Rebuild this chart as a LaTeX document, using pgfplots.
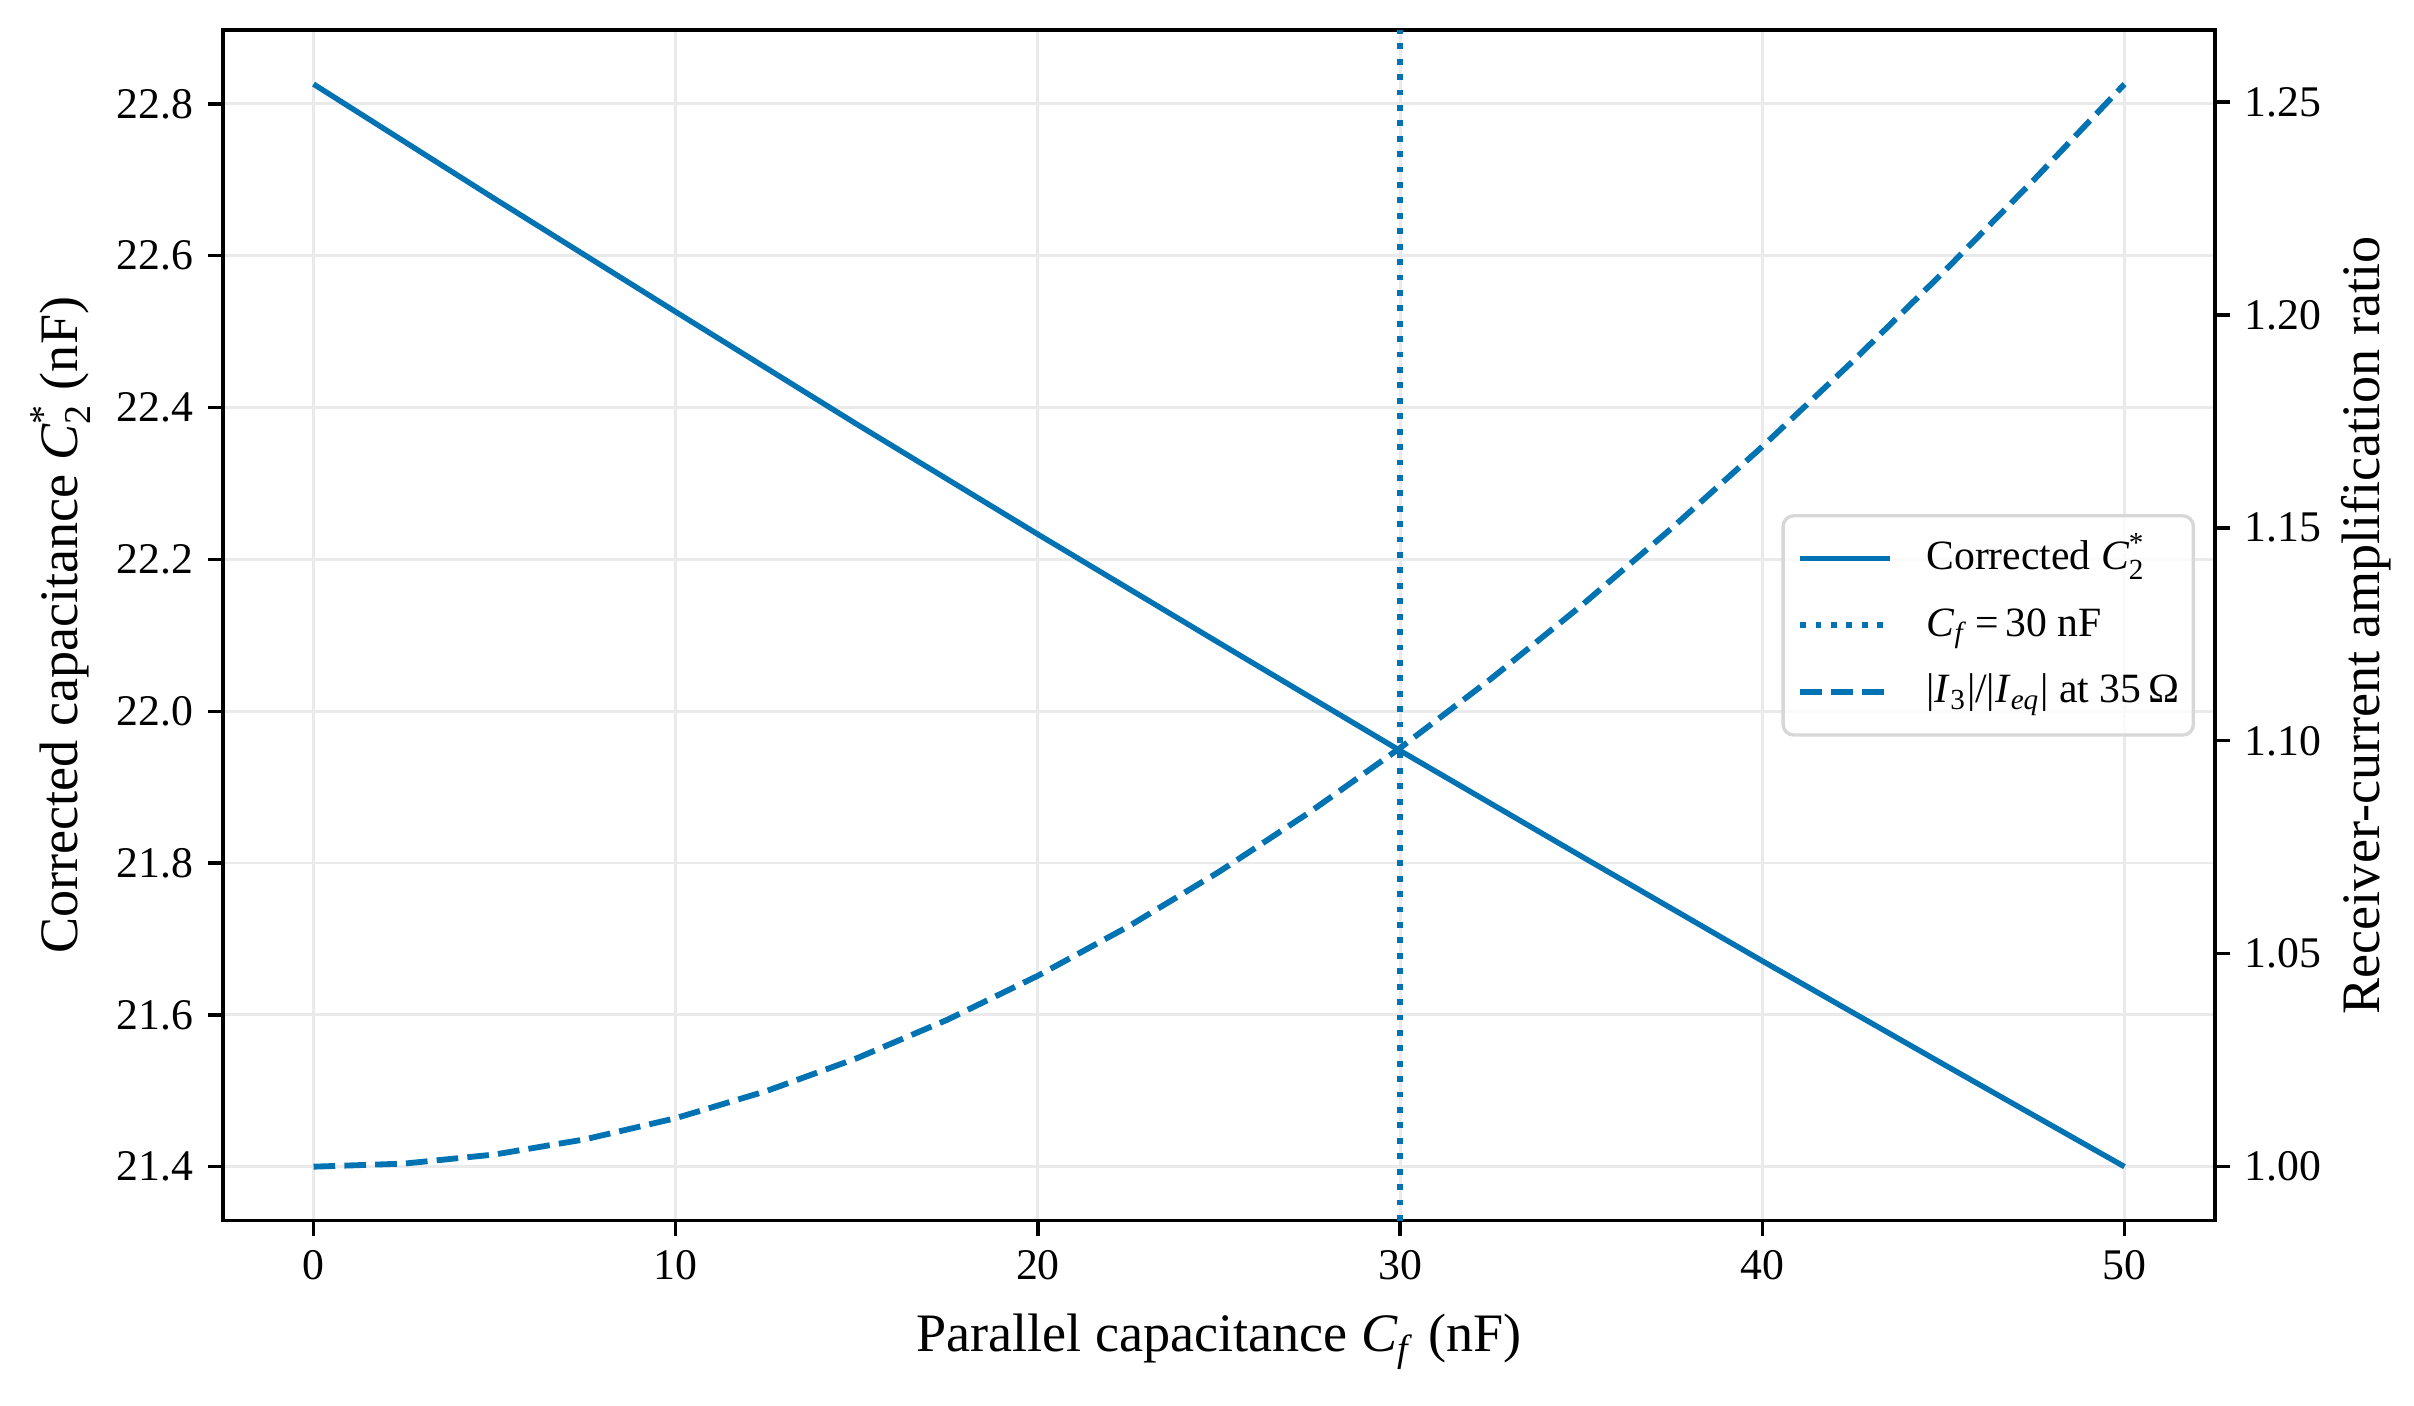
\documentclass[border=0pt]{standalone}
\usepackage{fontspec}
\setmainfont{Liberation Serif}
\usepackage{amsmath}
\usepackage{pgfplots}
\pgfplotsset{compat=1.18}
\definecolor{cblue}{RGB}{1,115,178}
\definecolor{gridc}{RGB}{234,234,234}
\definecolor{legc}{RGB}{215,215,215}

\pgfplotstableread{
x    c2
0    22.826
5    22.675
10   22.526
15   22.378
20   22.233
25   22.090
30   21.948
35   21.809
40   21.671
45   21.535
50   21.400
}\cstar

\pgfplotstableread{
x     r
0     1.00000
2.5   1.00072
5     1.00286
7.5   1.00643
10    1.01139
12.5  1.01775
15    1.02546
17.5  1.03450
20    1.04484
22.5  1.05642
25    1.06923
27.5  1.08321
30    1.09832
32.5  1.11449
35    1.13171
37.5  1.14992
40    1.16907
42.5  1.18912
45    1.21002
47.5  1.23172
50    1.25419
}\ratio

\begin{document}
\begin{tikzpicture}
\begin{axis}[
  name=main,
  scale only axis, width=478.1pt, height=285.8pt,
  xmin=-2.5, xmax=52.5, ymin=21.3287, ymax=22.8973,
  xtick={0,10,20,30,40,50},
  ytick={21.4,21.6,21.8,22.0,22.2,22.4,22.6,22.8},
  xtick pos=left, ytick pos=left,
  tick align=outside, major tick length=3.6pt,
  major tick style={black, line width=0.8pt},
  axis line style={black, line width=0.8pt},
  grid=major, major grid style={gridc, line width=0.7pt},
  /pgf/number format/assume math mode=true,
  tick label style={font=\fontsize{10.5}{12}\selectfont},
  yticklabel style={/pgf/number format/.cd, fixed, fixed zerofill, precision=1},
  label style={font=\fontsize{13}{15}\selectfont},
  xlabel={Parallel capacitance \textit{C}\textsubscript{\textit{f}} (nF)},
  xlabel style={at={(axis description cs:0.5,0)}, anchor=base, yshift=-31.4pt},
  ylabel={Corrected capacitance $\textit{C}_{\textrm{2}}^{\textrm{*}}$\ (nF)},
  ylabel style={at={(axis description cs:-0.0728,0.5)}, anchor=base},
]
\addplot[cblue, line width=1.3pt] table[x=x, y=c2] {\cstar};
\addplot[cblue, line width=1.4pt, dash pattern=on 1.4pt off 2.3pt] coordinates {(30,21.3287) (30,22.8973)};
\end{axis}
\begin{axis}[
  scale only axis, width=478.1pt, height=285.8pt,
  xmin=-2.5, xmax=52.5, ymin=0.98729, ymax=1.26690,
  axis x line=none, axis y line*=right,
  ytick={1.00,1.05,1.10,1.15,1.20,1.25},
  ytick pos=right,
  tick align=outside, major tick length=3.6pt,
  major tick style={black, line width=0.8pt},
  axis line style={black, line width=0.8pt},
  /pgf/number format/assume math mode=true,
  tick label style={font=\fontsize{10.5}{12}\selectfont},
  yticklabel style={/pgf/number format/.cd, fixed, fixed zerofill, precision=2},
  label style={font=\fontsize{13}{15}\selectfont},
  ylabel={Receiver-current amplification ratio},
  ylabel style={at={(axis description cs:1.0828,0.5)}, anchor=base},
  legend image code/.code={\draw[#1] (0pt,0pt) -- (21.6pt,0pt);},
  legend style={at={(axis description cs:1,0.5)}, anchor=east, xshift=-4.8pt,
    draw=legc, line width=0.8pt, rounded corners=2.5pt, fill=white,
    fill opacity=0.8, draw opacity=1, text opacity=1,
    font=\fontsize{10}{12}\selectfont,
    inner xsep=3.4pt, inner ysep=5.4pt, row sep=6.2pt, column sep=8pt,
    nodes={inner sep=0pt, text height=7.5pt, text depth=2.3pt}},
  legend cell align=left,
]
\addlegendimage{cblue, line width=1.3pt}
\addlegendentry{Corrected $\textit{C}_{\textrm{2}}^{\textrm{*}}$}
\addlegendimage{cblue, line width=1.4pt, dash pattern=on 1.4pt off 2.3pt}
\addlegendentry{\textit{C}\textsubscript{\textit{f}}\,=\,30 nF}
\addplot[cblue, line width=1.4pt, dash pattern=on 5.2pt off 2.2pt] table[x=x, y=r] {\ratio};
\addlegendentry{|\textit{I}\textsubscript{3}|/|\textit{I}\textsubscript{\textit{eq}}| at 35\,Ω}
\end{axis}
\pgfresetboundingbox
\path[use as bounding box] ([shift={(-53.52pt,-44.4pt)}]main.south west) rectangle ([shift={(47.76pt,7.2pt)}]main.north east);
\end{tikzpicture}
\end{document}
